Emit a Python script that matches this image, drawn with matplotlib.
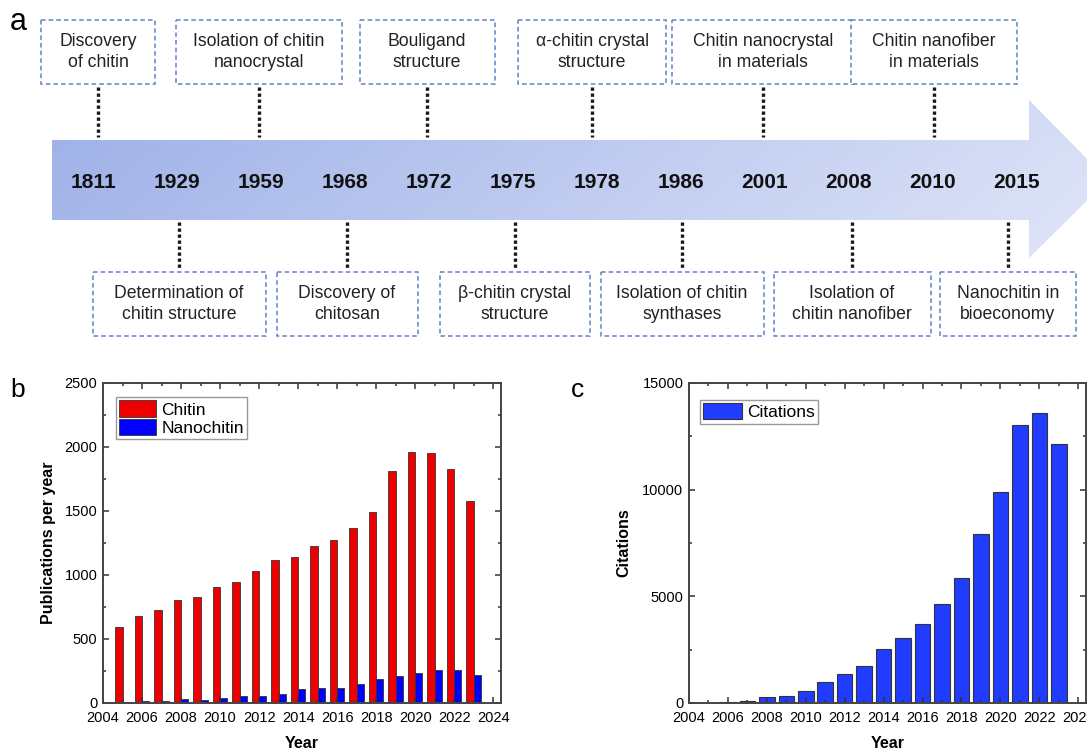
import matplotlib
matplotlib.use("Agg")
import matplotlib.pyplot as plt
import numpy as np
from matplotlib.patches import Polygon, Rectangle
from matplotlib.ticker import MultipleLocator

plt.rcParams['font.family'] = ['Liberation Sans', 'DejaVu Sans']

# ---------------------------------------------------------------------------
# data
milestone_years = ["1811", "1929", "1959", "1968", "1972", "1975",
                   "1978", "1986", "2001", "2008", "2010", "2015"]

# (index into milestone_years, text)
top_events = [
    (0, "Discovery\nof chitin"),
    (2, "Isolation of chitin\nnanocrystal"),
    (4, "Bouligand\nstructure"),
    (6, "α-chitin crystal\nstructure"),
    (8, "Chitin nanocrystal\nin materials"),
    (10, "Chitin nanofiber\nin materials"),
]
bottom_events = [
    (1, "Determination of\nchitin structure"),
    (3, "Discovery of\nchitosan"),
    (5, "β-chitin crystal\nstructure"),
    (7, "Isolation of chitin\nsynthases"),
    (9, "Isolation of\nchitin nanofiber"),
    (11, "Nanochitin in\nbioeconomy"),
]

pub_years = [2005, 2006, 2007, 2008, 2009, 2010, 2011, 2012, 2013, 2014,
             2015, 2016, 2017, 2018, 2019, 2020, 2021, 2022, 2023]
chitin = [592, 683, 725, 803, 826, 907, 946, 1032, 1115, 1138,
          1224, 1276, 1364, 1492, 1809, 1962, 1954, 1830, 1577]
nanochitin = [4, 12, 15, 34, 23, 39, 54, 57, 73, 109,
              119, 114, 150, 187, 210, 233, 256, 259, 215]

cit_years = [2005, 2006, 2007, 2008, 2009, 2010, 2011, 2012, 2013, 2014,
             2015, 2016, 2017, 2018, 2019, 2020, 2021, 2022, 2023]
citations = [5, 50, 110, 280, 330, 540, 990, 1380, 1720, 2550,
             3030, 3700, 4620, 5850, 7920, 9870, 13050, 13610, 12160]

# ---------------------------------------------------------------------------
W, H = 1087, 750
fig = plt.figure(figsize=(W / 100, H / 100), dpi=100)

# panel a drawn in pixel coordinates
ax0 = fig.add_axes([0, 0, 1, 1])
ax0.set_xlim(0, W)
ax0.set_ylim(H, 0)
ax0.axis("off")

X0, DX = 93, 84          # position of first year and spacing
BODY_T, BODY_B = 140, 220
HEAD_X, HEAD_T, HEAD_B, TIP_X, TIP_Y = 1029, 100, 258, 1108, 180

arrow = Polygon([(52, BODY_T), (HEAD_X, BODY_T), (HEAD_X, HEAD_T),
                 (TIP_X, TIP_Y), (HEAD_X, HEAD_B), (HEAD_X, BODY_B),
                 (52, BODY_B)], closed=True, fc="none", ec="none")
ax0.add_patch(arrow)
gx, gy = np.meshgrid(np.linspace(0, 1, 300), np.linspace(0, 1, 60))
t = 0.85 * gx + 0.15 * gy
c0 = np.array([158, 176, 232]) / 255
c1 = np.array([224, 230, 248]) / 255
grad = c0 + (c1 - c0) * t[..., None]
im = ax0.imshow(grad, extent=(52, TIP_X, HEAD_B, HEAD_T), aspect="auto",
                interpolation="bilinear", zorder=1)
im.set_clip_path(arrow)

for i, yr in enumerate(milestone_years):
    ax0.text(X0 + DX * i, 183, yr, ha="center", va="center",
             fontsize=15, fontweight="bold", color="#111111", zorder=3)

# box widths and small shifts of the connector relative to the year label
top_widths = [114, 166, 135, 148, 182, 166]
top_shift = [5, -2, -2, -5, -2, 1]
bot_widths = [173, 141, 150, 163, 157, 136]
bot_shift = [2, 2, 2, 1, 3, -9]
box_ec = "#5f82c6"


def draw_box(xc, y0, y1, w, txt):
    ax0.add_patch(Rectangle((xc - w / 2, y0), w, y1 - y0, fc="white",
                            ec=box_ec, lw=1.1, ls=(0, (3, 2)), zorder=2))
    ax0.text(xc, (y0 + y1) / 2, txt, ha="center", va="center",
             fontsize=12.7, color="#222222", linespacing=1.3, zorder=3)


for (idx, txt), w, s in zip(top_events, top_widths, top_shift):
    xc = X0 + DX * idx + s
    draw_box(xc, 20, 84, w, txt)
    ax0.plot([xc, xc], [87, 137], color="#1a1a1a", ls=(0, (1, 0.8)), lw=2.4)

for (idx, txt), w, s in zip(bottom_events, bot_widths, bot_shift):
    xc = X0 + DX * idx + s
    draw_box(xc, 272, 336, w, txt)
    ax0.plot([xc, xc], [222, 270], color="#1a1a1a", ls=(0, (1, 0.8)), lw=2.4)

fig.text(18 / W, 1 - 22 / H, "a", fontsize=22, ha="center", va="center")
fig.text(18 / W, 1 - 390 / H, "b", fontsize=19, ha="center", va="center")
fig.text(578 / W, 1 - 390 / H, "c", fontsize=19, ha="center", va="center")


# ---------------------------------------------------------------------------
def style_axes(ax, ymax, ymajor):
    ax.set_xlim(2004, 2024.4)
    ax.set_ylim(0, ymax)
    ax.xaxis.set_major_locator(MultipleLocator(2))
    ax.xaxis.set_minor_locator(MultipleLocator(1))
    ax.yaxis.set_major_locator(MultipleLocator(ymajor))
    ax.yaxis.set_minor_locator(MultipleLocator(ymajor / 2))
    ax.tick_params(which="both", direction="in", top=True, right=True,
                   color="#333333", width=1.1, labelsize=10.5)
    ax.tick_params(axis="x", which="major", pad=6)
    ax.tick_params(axis="y", which="major", pad=4)
    ax.tick_params(which="major", length=4.5)
    ax.tick_params(which="minor", length=2.5)
    for sp in ax.spines.values():
        sp.set_color("#444444")
        sp.set_linewidth(1.4)
    ax.set_xlabel("Year", fontsize=11.5, fontweight="bold", labelpad=8)


def px_axes(left, right, top, bottom):
    return fig.add_axes([left / W, 1 - bottom / H, (right - left) / W,
                         (bottom - top) / H])


# panel b
ax_b = px_axes(103, 501, 383, 703)
bw = 0.37
ax_b.bar(pub_years, chitin, width=-bw, align="edge", color="#ee0000",
         edgecolor="#333333", linewidth=0.6, label="Chitin")
ax_b.bar(pub_years, nanochitin, width=bw, align="edge", color="#0000ff",
         edgecolor="#333333", linewidth=0.6, label="Nanochitin")
style_axes(ax_b, 2500, 500)
ax_b.set_ylabel("Publications per year", fontsize=11.5, fontweight="bold",
                labelpad=6)
ax_b.legend(loc="upper left", bbox_to_anchor=(13 / 398, 1 - 14 / 320),
            borderaxespad=0, fancybox=False, edgecolor="#999999",
            framealpha=1, fontsize=12.5, handlelength=2.1, handleheight=1.1,
            labelspacing=0.05, handletextpad=0.3, borderpad=0.2)

# panel c
ax_c = px_axes(689, 1086, 383, 703)
ax_c.bar(cit_years, citations, width=0.8, color="#1f3cff",
         edgecolor="#333333", linewidth=0.8, label="Citations")
style_axes(ax_c, 15000, 5000)
ax_c.set_ylabel("Citations", fontsize=11.5, fontweight="bold", labelpad=8)
ax_c.legend(loc="upper left", bbox_to_anchor=(11 / 397, 1 - 17 / 320),
            borderaxespad=0, fancybox=False, edgecolor="#999999",
            framealpha=1, fontsize=12.5, handlelength=2.2, handleheight=1.0,
            handletextpad=0.3, borderpad=0.2)

fig.savefig("out.png", dpi=100)
